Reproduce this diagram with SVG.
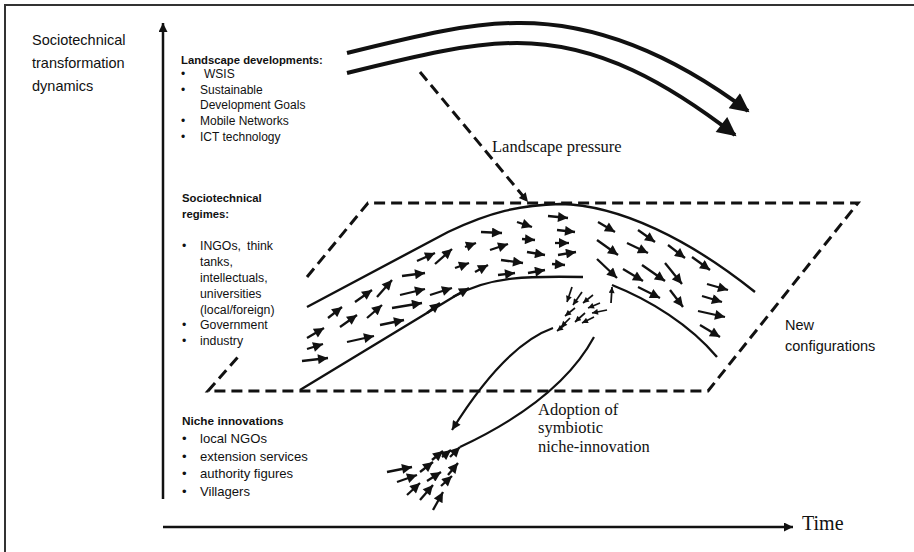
<svg xmlns="http://www.w3.org/2000/svg" width="914" height="552" viewBox="0 0 914 552">
<style>
.sans{font-family:"Liberation Sans",Arial,sans-serif;fill:#111}
.serif{font-family:"Liberation Serif","Times New Roman",serif;fill:#111}
.b{font-weight:bold}
.ln{fill:none;stroke:#111;stroke-width:2.4}
.dash{fill:none;stroke:#111;stroke-width:3;stroke-dasharray:11 6}
.sa{stroke:#111;stroke-width:2.3;marker-end:url(#ah)}
.ta{stroke:#111;stroke-width:1.7;marker-end:url(#ahs)}
</style>
<defs>
<marker id="ah" viewBox="0 0 10 10" refX="10" refY="5" markerUnits="userSpaceOnUse" markerWidth="11" markerHeight="10" orient="auto"><path d="M0,0 L10,5 L0,10 z" fill="#111"/></marker>
<marker id="ahs" viewBox="0 0 10 10" refX="10" refY="5" markerUnits="userSpaceOnUse" markerWidth="7" markerHeight="6" orient="auto"><path d="M0,0 L10,5 L0,10 z" fill="#111"/></marker>
<marker id="big" viewBox="0 0 10 10" refX="9" refY="5" markerUnits="userSpaceOnUse" markerWidth="25" markerHeight="19" orient="auto"><path d="M0,0 L10,5 L0,10 z" fill="#111"/></marker>
<marker id="ax" viewBox="0 0 10 10" refX="10" refY="5" markerUnits="userSpaceOnUse" markerWidth="13" markerHeight="9" orient="auto"><path d="M0,0 L10,5 L0,10 z" fill="#111"/></marker>
<marker id="mid" viewBox="0 0 10 10" refX="10" refY="5" markerUnits="userSpaceOnUse" markerWidth="12" markerHeight="9" orient="auto"><path d="M0,0 L10,5 L0,10 z" fill="#111"/></marker>
</defs>
<rect width="914" height="552" fill="#fff"/>
<g id="frame"><path d="M5,552 L5,5 L914,5" fill="none" stroke="#333" stroke-width="2"/></g>

<g id="axes">
<line x1="163" y1="499" x2="163" y2="23" stroke="#111" stroke-width="2.5" marker-end="url(#ax)"/>
<line x1="163" y1="527" x2="793" y2="527" stroke="#111" stroke-width="2.5" marker-end="url(#ax)"/>
<text class="serif" x="802" y="530" font-size="20">Time</text>
</g>

<g id="title">
<text class="sans" font-size="14.5"><tspan x="32" y="45">Sociotechnical</tspan><tspan x="32" y="68">transformation</tspan><tspan x="32" y="91">dynamics</tspan></text>
</g>

<g id="landscape-text">
<text class="sans b" x="181" y="64" font-size="11.3">Landscape developments:</text>
<text class="sans" font-size="12">
<tspan x="181" y="78">•</tspan><tspan x="204" y="78">WSIS</tspan>
<tspan x="181" y="94">•</tspan><tspan x="200" y="94">Sustainable</tspan>
<tspan x="200" y="109">Development Goals</tspan>
<tspan x="181" y="125">•</tspan><tspan x="200" y="125">Mobile Networks</tspan>
<tspan x="181" y="141">•</tspan><tspan x="200" y="141">ICT technology</tspan>
</text>
</g>

<g id="regime-text">
<text class="sans b" font-size="11.3"><tspan x="182" y="202">Sociotechnical</tspan><tspan x="182" y="218">regimes:</tspan></text>
<text class="sans" font-size="12.3">
<tspan x="182" y="250">•</tspan><tspan x="200" y="250">INGOs,</tspan><tspan x="247" y="250">think</tspan>
<tspan x="200" y="266">tanks,</tspan>
<tspan x="200" y="282">intellectuals,</tspan>
<tspan x="200" y="298">universities</tspan>
<tspan x="200" y="314">(local/foreign)</tspan>
<tspan x="182" y="329">•</tspan><tspan x="200" y="329">Government</tspan>
<tspan x="182" y="345">•</tspan><tspan x="200" y="345">industry</tspan>
</text>
</g>

<g id="niche-text">
<text class="sans b" x="182" y="425" font-size="11.8">Niche innovations</text>
<text class="sans" font-size="13.1">
<tspan x="182" y="443">•</tspan><tspan x="200" y="443">local NGOs</tspan>
<tspan x="182" y="461">•</tspan><tspan x="200" y="461">extension services</tspan>
<tspan x="182" y="478">•</tspan><tspan x="200" y="478">authority figures</tspan>
<tspan x="182" y="496">•</tspan><tspan x="200" y="496">Villagers</tspan>
</text>
</g>

<g id="landscape-arrows">
<path d="M347,53 C420,35 470,23 517,23 C600,22 680,60 748,111" fill="none" stroke="#111" stroke-width="4" marker-end="url(#big)"/>
<path d="M347,73 C420,55 470,43 517,43 C600,43 670,85 735,135" fill="none" stroke="#111" stroke-width="4" marker-end="url(#big)"/>
</g>

<g id="landscape-pressure">
<line x1="420" y1="72" x2="528" y2="202" class="dash" stroke-width="2.6" stroke-dasharray="10 7" marker-end="url(#mid)"/>
<text class="serif" x="492" y="152" font-size="16.5">Landscape pressure</text>
</g>

<g id="regime-plane">
<path class="dash" d="M307,277 L368,203 L858,203 L708,391 L208,391 L238,357"/>
</g>

<g id="regime-band">
<path class="ln" d="M307,307 L448,232 C490,212 520,205 560,204 C620,205 690,240 755,292"/>
<path class="ln" d="M300,390 L455,296 C490,276 530,276 583,277"/>
<path class="ln" d="M612,285 C650,300 690,325 717,357"/>
</g>

<g id="band-arrows">
<line class="sa" x1="302" y1="361" x2="328" y2="358"/>
<line class="sa" x1="307" y1="349" x2="323" y2="344"/>
<line class="sa" x1="307" y1="338" x2="324" y2="328"/>
<line class="sa" x1="328" y1="318" x2="342" y2="307"/>
<line class="sa" x1="340" y1="327" x2="357" y2="315"/>
<line class="sa" x1="347" y1="342" x2="374" y2="336"/>
<line class="sa" x1="355" y1="302" x2="372" y2="290"/>
<line class="sa" x1="367" y1="318" x2="382" y2="305"/>
<line class="sa" x1="377" y1="297" x2="392" y2="280"/>
<line class="sa" x1="380" y1="325" x2="404" y2="320"/>
<line class="sa" x1="392" y1="308" x2="422" y2="303"/>
<line class="sa" x1="400" y1="295" x2="425" y2="289"/>
<line class="sa" x1="402" y1="276" x2="425" y2="273"/>
<line class="sa" x1="417" y1="261" x2="435" y2="253"/>
<line class="sa" x1="427" y1="313" x2="440" y2="303"/>
<line class="sa" x1="430" y1="295" x2="452" y2="288"/>
<line class="sa" x1="435" y1="264" x2="452" y2="249"/>
<line class="sa" x1="453" y1="297" x2="469" y2="288"/>
<line class="sa" x1="455" y1="268" x2="469" y2="263"/>
<line class="sa" x1="465" y1="247" x2="476" y2="243"/>
<line class="sa" x1="475" y1="272" x2="488" y2="265"/>
<line class="sa" x1="481" y1="232" x2="502" y2="233"/>
<line class="sa" x1="490" y1="250" x2="508" y2="244"/>
<line class="sa" x1="498" y1="275" x2="515" y2="273"/>
<line class="sa" x1="501" y1="260" x2="523" y2="263"/>
<line class="sa" x1="517" y1="222" x2="532" y2="227"/>
<line class="sa" x1="522" y1="239" x2="535" y2="240"/>
<line class="sa" x1="527" y1="252" x2="545" y2="255"/>
<line class="sa" x1="528" y1="273" x2="545" y2="270"/>
<line class="sa" x1="548" y1="216" x2="568" y2="218"/>
<line class="sa" x1="557" y1="230" x2="575" y2="232"/>
<line class="sa" x1="555" y1="243" x2="569" y2="243"/>
<line class="sa" x1="558" y1="255" x2="576" y2="252"/>
<line class="sa" x1="552" y1="264" x2="565" y2="265"/>
<line class="sa" x1="598" y1="222" x2="615" y2="232"/>
<line class="sa" x1="597" y1="240" x2="618" y2="255"/>
<line class="sa" x1="597" y1="259" x2="617" y2="278"/>
<line class="sa" x1="638" y1="230" x2="655" y2="242"/>
<line class="sa" x1="627" y1="243" x2="648" y2="253"/>
<line class="sa" x1="623" y1="269" x2="643" y2="281"/>
<line class="sa" x1="642" y1="265" x2="665" y2="281"/>
<line class="sa" x1="638" y1="287" x2="660" y2="298"/>
<line class="sa" x1="668" y1="245" x2="685" y2="258"/>
<line class="sa" x1="665" y1="263" x2="682" y2="284"/>
<line class="sa" x1="670" y1="290" x2="683" y2="307"/>
<line class="sa" x1="692" y1="257" x2="710" y2="270"/>
<line class="sa" x1="707" y1="284" x2="728" y2="290"/>
<line class="sa" x1="702" y1="296" x2="722" y2="302"/>
<line class="sa" x1="698" y1="311" x2="725" y2="317"/>
<line class="sa" x1="700" y1="325" x2="720" y2="337"/>
</g>

<g id="upper-cluster">
<line class="ta" x1="572" y1="287" x2="567" y2="302"/>
<line class="ta" x1="582" y1="292" x2="573" y2="305"/>
<line class="ta" x1="593" y1="295" x2="583" y2="303"/>
<line class="ta" x1="600" y1="303" x2="588" y2="308"/>
<line class="ta" x1="607" y1="310" x2="592" y2="313"/>
<line class="ta" x1="575" y1="308" x2="565" y2="316"/>
<line class="ta" x1="585" y1="313" x2="575" y2="322"/>
<line class="ta" x1="570" y1="318" x2="561" y2="327"/>
<line class="ta" x1="594" y1="317" x2="582" y2="323"/>
<line class="ta" x1="566" y1="324" x2="557" y2="331"/>
<line class="ta" x1="611" y1="303" x2="612" y2="287"/>
</g>

<g id="niche-cluster">
<line class="sa" x1="387" y1="472" x2="412" y2="467"/>
<line class="sa" x1="397" y1="482" x2="417" y2="475"/>
<line class="sa" x1="407" y1="495" x2="420" y2="483"/>
<line class="sa" x1="420" y1="500" x2="433" y2="485"/>
<line class="sa" x1="433" y1="510" x2="443" y2="492"/>
<line class="sa" x1="420" y1="472" x2="433" y2="462"/>
<line class="sa" x1="427" y1="481" x2="441" y2="472"/>
<line class="sa" x1="441" y1="486" x2="452" y2="476"/>
<line class="sa" x1="432" y1="460" x2="443" y2="451"/>
<line class="sa" x1="442" y1="457" x2="451" y2="450"/>
<line class="sa" x1="448" y1="475" x2="458" y2="463"/>
<line class="sa" x1="450" y1="457" x2="460" y2="447"/>
</g>

<g id="connectors">
<path d="M553,328 Q505,345 452,430" fill="none" stroke="#111" stroke-width="2.2" marker-end="url(#mid)"/>
<path d="M460,447 Q560,400 594,337" fill="none" stroke="#111" stroke-width="2.2"/>
</g>

<g id="labels">
<text class="sans" font-size="14.5"><tspan x="785" y="330">New</tspan><tspan x="785" y="351">configurations</tspan></text>
<text class="serif" font-size="16.5"><tspan x="538" y="415">Adoption of</tspan><tspan x="538" y="433">symbiotic</tspan><tspan x="538" y="452">niche-innovation</tspan></text>
</g>
</svg>
